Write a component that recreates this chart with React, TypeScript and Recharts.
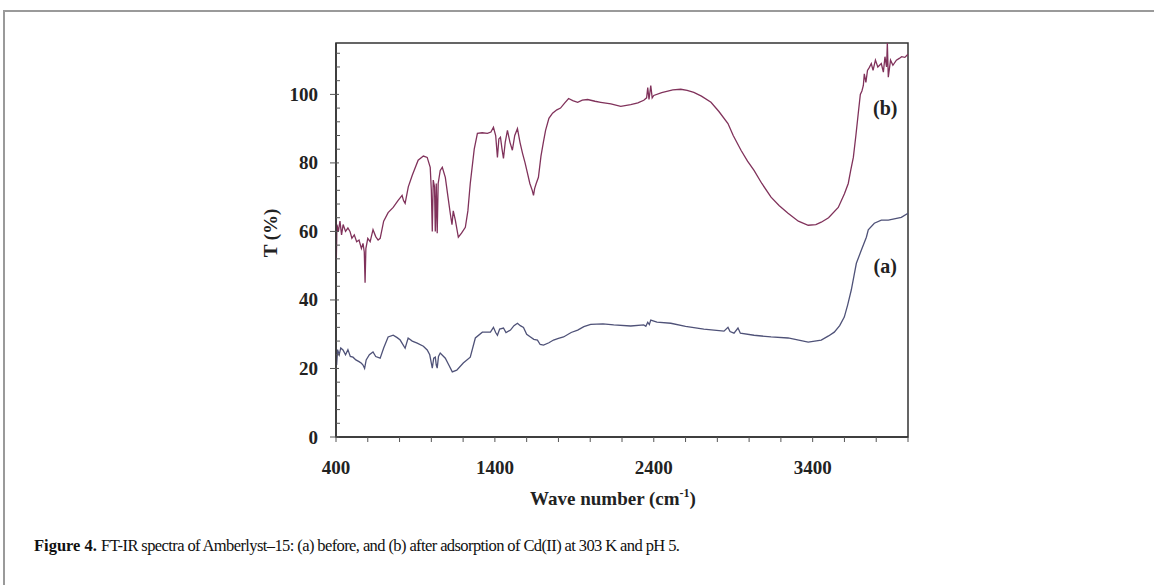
import { LineChart, Line, XAxis, YAxis, ReferenceArea, ReferenceDot } from 'recharts'

// (b) after adsorption
const waveB = [
  400, 402, 406, 415, 425, 435, 445, 460, 475, 488, 500, 515, 530, 545, 560, 570, 578, 583, 588, 600,
  615, 633, 650, 665, 678, 700, 728, 760, 790, 816, 825, 835, 855, 880, 917, 950, 974, 993, 1000, 1006,
  1012, 1020, 1025, 1031, 1037, 1043, 1056, 1069, 1088, 1105, 1119, 1130, 1138, 1151, 1170, 1190, 1214, 1230, 1245, 1270,
  1290, 1320, 1353, 1375, 1391, 1405, 1416, 1425, 1435, 1445, 1454, 1465, 1479, 1495, 1510, 1525, 1542, 1558, 1574, 1590,
  1605, 1620, 1635, 1643, 1650, 1660, 1674, 1690, 1705, 1719, 1740, 1763, 1790, 1813, 1840, 1864, 1890, 1921, 1950, 1984,
  2030, 2066, 2130, 2192, 2255, 2300, 2337, 2355, 2362, 2370, 2381, 2390, 2400, 2450, 2520, 2570, 2610, 2652, 2700, 2760,
  2810, 2867, 2900, 2949, 2990, 3031, 3080, 3138, 3190, 3245, 3310, 3372, 3420, 3454, 3500, 3561, 3600, 3624, 3640, 3656,
  3672, 3687, 3700, 3710, 3719, 3725, 3735, 3745, 3757, 3769, 3780, 3795, 3810, 3832, 3845, 3855, 3865, 3870, 3876, 3890,
  3905, 3927, 3945, 3960, 3980, 4000,
]
const transB = [
  63, 52, 62, 60, 63, 59, 62, 60, 61, 60, 58, 59, 57, 57.5, 55, 56.5, 54, 45, 55, 58,
  57, 60.5, 58.5, 57.5, 58, 63, 65.5, 67, 69, 70.5, 69, 68.2, 73, 76.4, 80.8, 82, 81.6, 78.7, 72, 60,
  75, 73, 60, 74, 59.5, 74, 77.8, 78.7, 75.8, 70, 65.3, 62, 66, 63.3, 58.3, 59.5, 61.2, 66, 74, 84,
  88.6, 88.8, 88.6, 89, 90.4, 88, 81.6, 87, 87.5, 84, 81.3, 86, 89.5, 86, 83.7, 88, 90, 86, 82.8, 80,
  77, 74, 72, 70.5, 72.5, 74, 75.8, 82, 86, 89.5, 93, 94.5, 95.5, 96, 97.5, 98.8, 98.2, 97.7, 98.3, 98.5,
  98, 97.7, 97.2, 96.5, 97, 97.5, 98.3, 99, 102, 98.5, 102.6, 99, 99.7, 100.5, 101.3, 101.5, 101.2, 100.6, 99.5, 97.7,
  95, 91.5, 88, 83.7, 80.5, 77.8, 74, 70, 67.5, 65.3, 63, 61.8, 62, 62.7, 64, 67, 71, 74, 78, 81.6,
  88, 94.5, 100, 101, 102.6, 106, 103.5, 107, 107.9, 109, 107, 110, 108, 109, 106.5, 111, 108, 115, 105, 110,
  108.5, 110, 110.5, 111, 110.8, 111.7,
]

// (a) before adsorption
const waveA = [
  400, 404, 410, 420, 430, 444, 460, 475, 490, 507, 525, 545, 560, 570, 580, 590, 610, 633, 650, 678,
  700, 728, 760, 785, 804, 835, 854, 880, 911, 950, 974, 990, 1006, 1015, 1025, 1031, 1037, 1045, 1056, 1088,
  1110, 1132, 1160, 1201, 1245, 1277, 1321, 1372, 1391, 1405, 1416, 1430, 1454, 1470, 1498, 1520, 1542, 1560, 1580, 1600,
  1624, 1645, 1668, 1685, 1706, 1740, 1769, 1800, 1832, 1880, 1921, 1960, 2003, 2080, 2148, 2255, 2337, 2350, 2362, 2372,
  2381, 2420, 2507, 2600, 2715, 2842, 2867, 2880, 2905, 2930, 2945, 3031, 3138, 3245, 3372, 3454, 3500, 3536, 3570, 3599,
  3620, 3643, 3660, 3675, 3706, 3738, 3750, 3788, 3832, 3876, 3958, 4000,
]
const transA = [
  24.5, 21, 25.5, 24, 26, 25.4, 24, 25.5, 23.5, 23.3, 22.5, 22, 21.5, 21, 20, 22.5, 24, 24.8, 23.5, 23,
  26, 29.2, 29.7, 29, 28.3, 25.9, 28.9, 28, 27.4, 26.5, 25.4, 24, 20.1, 23, 23.3, 21, 20.1, 23.5, 24.5, 23,
  21, 19, 19.5, 21.6, 23.3, 28.9, 30.6, 30.6, 32, 30.5, 29.7, 31.5, 31.8, 30.5, 31.2, 32.5, 33.2, 32.5, 32, 30,
  29.2, 28.5, 28.3, 27, 26.8, 27.5, 28.3, 28.8, 29.2, 30.5, 31.2, 32.2, 32.9, 33, 32.7, 32.4, 32.7, 32.3, 33.5, 32.8,
  34.1, 33.5, 33.2, 32.3, 31.5, 30.9, 32, 30.8, 30.3, 31.8, 30.3, 29.7, 29.2, 28.9, 27.7, 28.3, 29.5, 30.6, 32.5, 35,
  38.5, 42.9, 47, 50.7, 54.5, 58.3, 60.5, 62.4, 63.3, 63.3, 64.1, 65.3,
]

const xTicks = [400, 600, 800, 1000, 1200, 1400, 1600, 1800, 2000, 2200, 2400, 2600, 2800, 3000, 3200, 3400, 3600, 3800, 4000]
const xLabels = [400, 1400, 2400, 3400]
const yTicks = [0, 4, 8, 12, 16, 20, 24, 28, 32, 36, 40, 44, 48, 52, 56, 60, 64, 68, 72, 76, 80, 84, 88, 92, 96, 100, 104, 108, 112]
const yLabels = [0, 20, 40, 60, 80, 100]

const dataB = waveB.map((w, i) => ({ w, t: transB[i] }))
const dataA = waveA.map((w, i) => ({ w, t: transA[i] }))

const serif = '"Liberation Serif", "Times New Roman", serif'
const axisColor = '#333'

function XTick({ x, y, payload }: any) {
  const major = xLabels.includes(payload.value)
  return (
    <g>
      <line x1={x} x2={x} y1={y} y2={y + 5} stroke="#555" strokeWidth={1} />
      {major && (
        <text x={x} y={y + 30} textAnchor="middle" dominantBaseline="central" fontFamily={serif}
          fontWeight="bold" fontSize={19} fill="#222">{payload.value}</text>
      )}
    </g>
  )
}

function YTick({ x, y, payload }: any) {
  const major = yLabels.includes(payload.value)
  return (
    <g>
      {major
        ? <line x1={x - 6} x2={x + 3} y1={y} y2={y} stroke="#555" strokeWidth={1} />
        : <line x1={x} x2={x + 4} y1={y} y2={y} stroke="#555" strokeWidth={1} />}
      {major && (
        <text x={x - 18} y={y} textAnchor="end" dominantBaseline="central" fontFamily={serif}
          fontWeight="bold" fontSize={19} fill="#222">{payload.value}</text>
      )}
    </g>
  )
}

export default function App() {
  return (
    <div style={{ position: 'absolute', left: 0, top: 0, width: 1154, height: 585, background: '#fff', overflow: 'hidden' }}>
      <div style={{ position: 'absolute', left: 3, top: 10, right: 0, bottom: 0, borderTop: '2px solid #9a9a9a', borderLeft: '2px solid #9a9a9a' }} />
      <div style={{ position: 'absolute', left: 0, top: 0 }}>
        <LineChart width={1154} height={585} margin={{ top: 43, right: 246, bottom: 88, left: 276 }}>
          <XAxis type="number" dataKey="w" domain={[400, 4000]} ticks={xTicks} interval={0} allowDataOverflow
            height={60} tickSize={0} tickMargin={0} tickLine={false} tick={<XTick />}
            axisLine={{ stroke: axisColor, strokeWidth: 1.5 }} />
          <YAxis type="number" domain={[0, 115]} ticks={yTicks} interval={0} allowDataOverflow
            width={60} tickSize={0} tickMargin={0} tickLine={false} tick={<YTick />}
            axisLine={{ stroke: axisColor, strokeWidth: 1.5 }} />
          <ReferenceArea x1={400} x2={4000} y1={0} y2={115} fill="none" stroke={axisColor} strokeWidth={1.5} />
          <Line data={dataA} dataKey="t" type="linear" stroke="#4f5278" strokeWidth={1.3} dot={false} isAnimationActive={false} />
          <Line data={dataB} dataKey="t" type="linear" stroke="#80325b" strokeWidth={1.3} dot={false} isAnimationActive={false} />
          <ReferenceDot x={3857} y={96} r={0} fill="none" stroke="none"
            label={{ value: '(b)', position: 'center', fontFamily: serif, fontWeight: 'bold', fontSize: 20, fill: '#222' }} />
          <ReferenceDot x={3857} y={50} r={0} fill="none" stroke="none"
            label={{ value: '(a)', position: 'center', fontFamily: serif, fontWeight: 'bold', fontSize: 20, fill: '#222' }} />
        </LineChart>
      </div>
      <div style={{ position: 'absolute', left: 271, top: 233, transform: 'translate(-50%, -50%) rotate(-90deg)', fontFamily: serif, fontWeight: 'bold', fontSize: 19, color: '#222', whiteSpace: 'nowrap' }}>
        T (%)
      </div>
      <div style={{ position: 'absolute', left: 613, top: 498, transform: 'translate(-50%, -50%)', fontFamily: serif, fontWeight: 'bold', fontSize: 19, color: '#222', whiteSpace: 'nowrap' }}>
        Wave number (cm<sup style={{ fontSize: 12 }}>-1</sup>)
      </div>
      <div style={{ position: 'absolute', left: 34, top: 536, fontFamily: serif, fontSize: 16.5, color: '#111', whiteSpace: 'nowrap' }}>
        <b>Figure 4.</b> <span style={{ letterSpacing: -0.6 }}>FT-IR spectra of Amberlyst–15: (a) before, and (b) after adsorption of Cd(II) at 303 K and pH 5.</span>
      </div>
    </div>
  )
}
